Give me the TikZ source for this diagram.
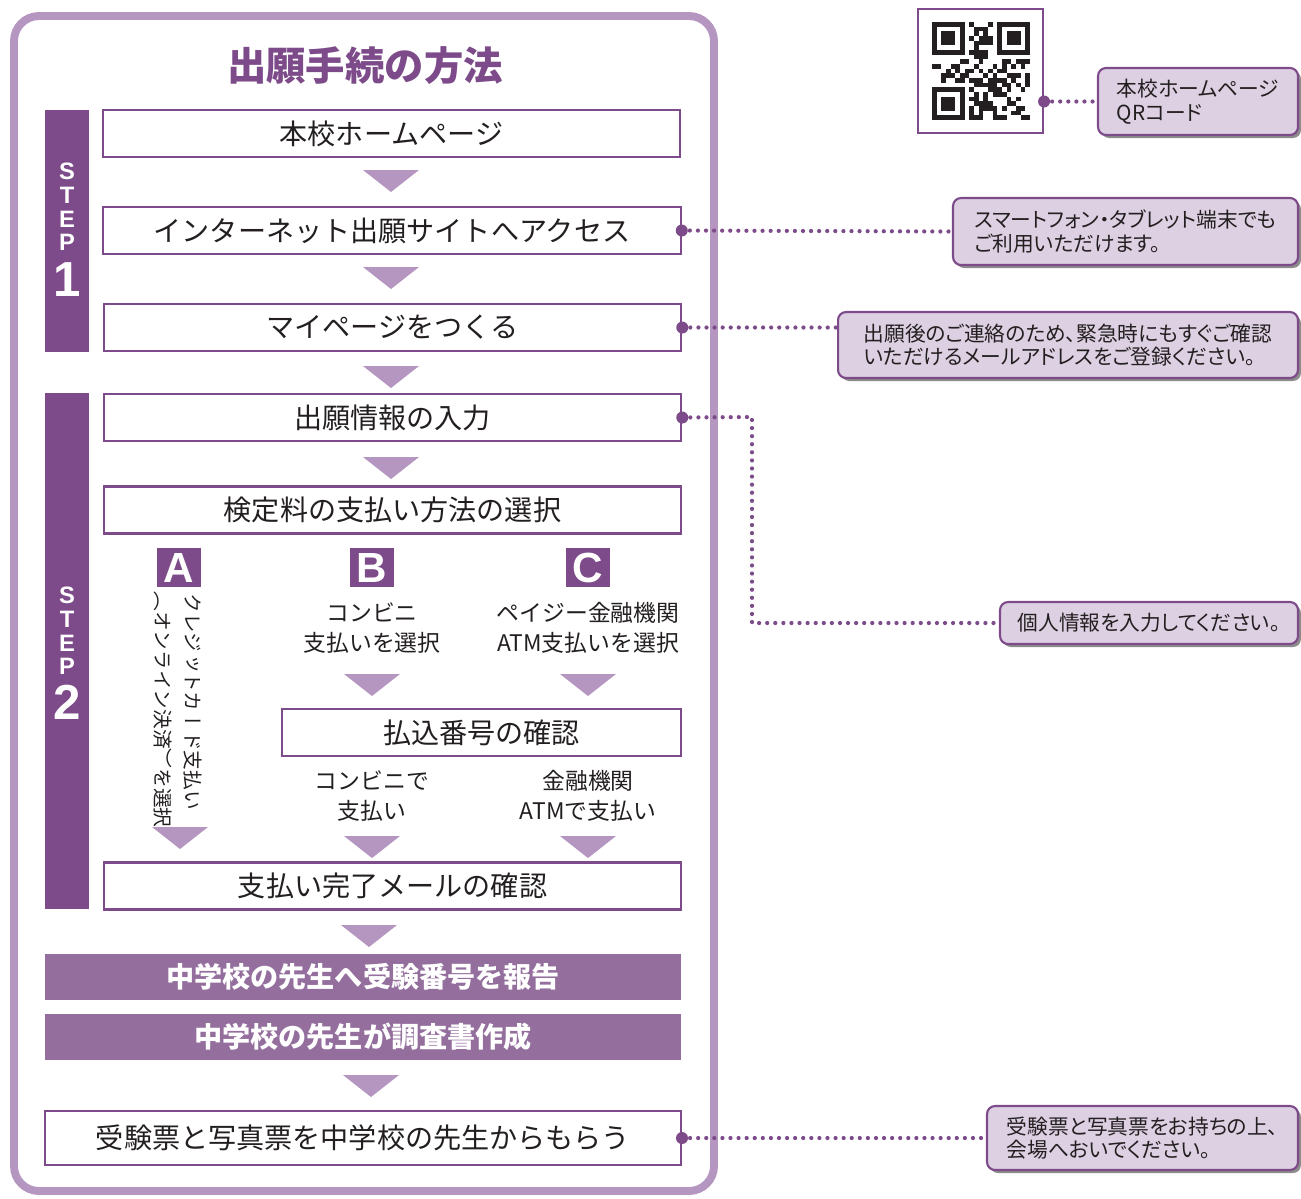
\documentclass[tikz,border=0pt]{standalone}
\usepackage{fontspec}
\setmainfont{Noto Sans CJK JP}
\newfontfamily\vjp[Vertical=RotatedGlyphs]{Noto Sans CJK JP}
\newfontfamily\pjp[RawFeature=+palt]{Noto Sans CJK JP}
\newfontfamily\lat{Liberation Sans}
\usepackage{tikz}
\usetikzlibrary{calc,shadows,positioning}

\definecolor{deep}{HTML}{7D4A8A}
\definecolor{pale}{HTML}{B596C0}
\definecolor{mid}{HTML}{946F9E}
\definecolor{lilac}{HTML}{DDD0E2}
\definecolor{ink}{HTML}{231F20}

\newcommand{\tri}[1]{\fill[pale] #1 ++(-28,-11) -- ++(56,0) -- ++(-28,22) -- cycle;}

\begin{document}
\begin{tikzpicture}[x=0.02cm,y=-0.02cm,
	box/.style={draw=deep,line width=1.2pt,fill=white,text=ink,minimum width=11.55cm,minimum height=0.94cm,inner sep=0pt,font=\fontsize{16}{18}\selectfont},
	bar/.style={fill=mid,text=white,minimum width=12.72cm,minimum height=0.92cm,inner sep=0pt,font=\bfseries\fontsize{16}{18}\selectfont},
	stepbar/.style={fill=deep,minimum width=0.88cm,inner sep=0pt},
	steptext/.style={text=white,align=center,inner sep=0pt,font=\lat\bfseries\fontsize{13.5}{13.4}\selectfont},
	stepnum/.style={text=white,inner sep=0pt,font=\lat\bfseries\fontsize{28}{28}\selectfont},
	letter/.style={fill=deep,text=white,minimum width=0.88cm,minimum height=0.78cm,inner sep=0pt,font=\lat\bfseries\fontsize{24}{24}\selectfont},
	sub/.style={text=ink,align=center,inner sep=0pt,font=\fontsize{13}{17}\selectfont},
	vsub/.style={anchor=west,rotate=-90,inner sep=0pt,text=ink,font=\vjp\fontsize{11.2}{12}\selectfont},
	note/.style={draw=deep,line width=1.2pt,fill=lilac,text=ink,rounded corners=0.16cm,align=left,inner sep=0pt,
		drop shadow={shadow xshift=0.06cm,shadow yshift=-0.06cm,fill=black!45,opacity=1},font=\pjp\fontsize{11.8}{13.4}\selectfont},
	dotline/.style={deep,line width=2.4pt,line cap=round,dash pattern=on 0pt off 4.6pt}]
	\useasboundingbox (0,0) rectangle (1301,1198);

	% 外枠
	\draw[pale,line width=4.5pt,rounded corners=0.5cm] (14,16) rectangle (714,1191);
	\node (title) at (365,66) [text=deep,font=\bfseries\fontsize{22.4}{24}\selectfont] {出願手続の方法};

	% STEP
	\node (s1) at (67,231) [stepbar,minimum height=4.84cm] {};
	\node (s2) at (67,651) [stepbar,minimum height=10.32cm] {};
	\node (s1t) at (67,207) [steptext] {S\\T\\E\\P};
	\node (s1n) at (67,280) [stepnum] {1};
	\node (s2t) at (67,631) [steptext] {S\\T\\E\\P};
	\node (s2n) at (67,702) [stepnum] {2};

	\node (b1) at (391.5,133.5) [box] {本校ホームページ};
	\node (b2) at (392,230.5) [box] {インターネット出願サイトへアクセス};
	\node (b3) at (392.5,327.5) [box] {マイページをつくる};
	\node (b4) at (392.5,417.5) [box] {出願情報の入力};
	\node (b5) at (392.5,510) [box] {検定料の支払い方法の選択};
	\node (b6) at (481.5,732.5) [box,minimum width=7.98cm] {払込番号の確認};
	\node (b7) at (392.5,886) [box] {支払い完了メールの確認};
	\node (b8) at (363,977) [bar] {中学校の先生へ受験番号を報告};
	\node (b9) at (363,1037) [bar] {中学校の先生が調査書作成};
	\node (b10) at (363,1138) [box,minimum width=12.72cm,minimum height=1.08cm] {受験票と写真票を中学校の先生からもらう};

	\foreach \p in {(391,181),(391,278),(391,377),(391,468),(180,838),(372,685),(588,685),(372,847),(588,847),(369,936),(371,1086)} {
		\tri{\p}
	}

	% A B C
	\node (la) at (179,567.5) [letter] {A};
	\node (lb) at (372,567.5) [letter] {B};
	\node (lc) at (588,567.5) [letter] {C};
	\node (av1) at (193,593) [vsub] {クレジットカード支払い};
	\node (av2) at (163,591) [vsub] {（オンライン決済）を選択};
	\node (bt1) at (372,628) [sub] {コンビニ\\支払いを選択};
	\node (ct1) at (588,628) [sub] {ペイジー金融機関\\ATM支払いを選択};
	\node (bt2) at (372,796) [sub] {コンビニで\\支払い};
	\node (ct2) at (588,796) [sub] {金融機関\\ATMで支払い};

	% QRコード
	\node (qr) at (980.5,71) [draw=deep,line width=1.2pt,minimum width=2.5cm,minimum height=2.48cm,inner sep=0pt] {};
	\pgfmathsetseed{23}
	\foreach \i in {0,...,20} {
		\foreach \j in {0,...,20} {
			\pgfmathsetmacro\r{rnd}
			\pgfmathtruncatemacro\fd{((\i<8)&&(\j<8))||((\i>12)&&(\j<8))||((\i<8)&&(\j>12))}
			\ifnum\fd=0 \ifdim\r pt<0.5pt
				\fill[ink] (932+\i*4.667,22+\j*4.667) rectangle ++(4.667,4.667);
			\fi\fi
		}
	}
	\foreach \i/\j in {0/0,14/0,0/14} {
		\fill[ink] (932+\i*4.667,22+\j*4.667) rectangle ++(32.67,32.67);
		\fill[white] (932+\i*4.667+4.667,22+\j*4.667+4.667) rectangle ++(23.33,23.33);
		\fill[ink] (932+\i*4.667+9.33,22+\j*4.667+9.33) rectangle ++(14,14);
	}

	% 吹き出し
	\node (c1) at (1198,101.5) [note,minimum width=4cm,minimum height=1.34cm] {本校ホームページ\\QRコード};
	\node (c2) at (1125.5,231.5) [note,minimum width=6.9cm,minimum height=1.34cm] {スマートフォン・タブレット端末でも\\ご利用いただけます。};
	\node (c3) at (1068,345) [note,minimum width=9.2cm,minimum height=1.32cm] {出願後のご連絡のため、緊急時にもすぐご確認\\いただけるメールアドレスをご登録ください。};
	\node (c4) at (1149,623) [note,minimum width=5.96cm,minimum height=0.84cm] {個人情報を入力してください。};
	\node (c5) at (1142.5,1138) [note,minimum width=6.22cm,minimum height=1.28cm] {受験票と写真票をお持ちの上、\\会場へおいでください。};

	\coordinate (qrdot) at (qr.east |- c1.west);
	\coordinate (c3in) at (b3.east -| c3.west);
	\coordinate (bend) at (752,417);
	\draw[dotline] (qrdot) -- (c1.west);
	\draw[dotline] (b2.east) -- (c2.west);
	\draw[dotline] (b3.east) -- (c3in);
	\draw[dotline] (b4.east) -- (bend) |- (c4.west);
	\draw[dotline] (b10.east) -- (c5.west);
	\foreach \d in {qrdot,b2.east,b3.east,b4.east,b10.east} {
		\fill[deep] (\d) circle[radius=0.12cm];
	}
\end{tikzpicture}
\end{document}
